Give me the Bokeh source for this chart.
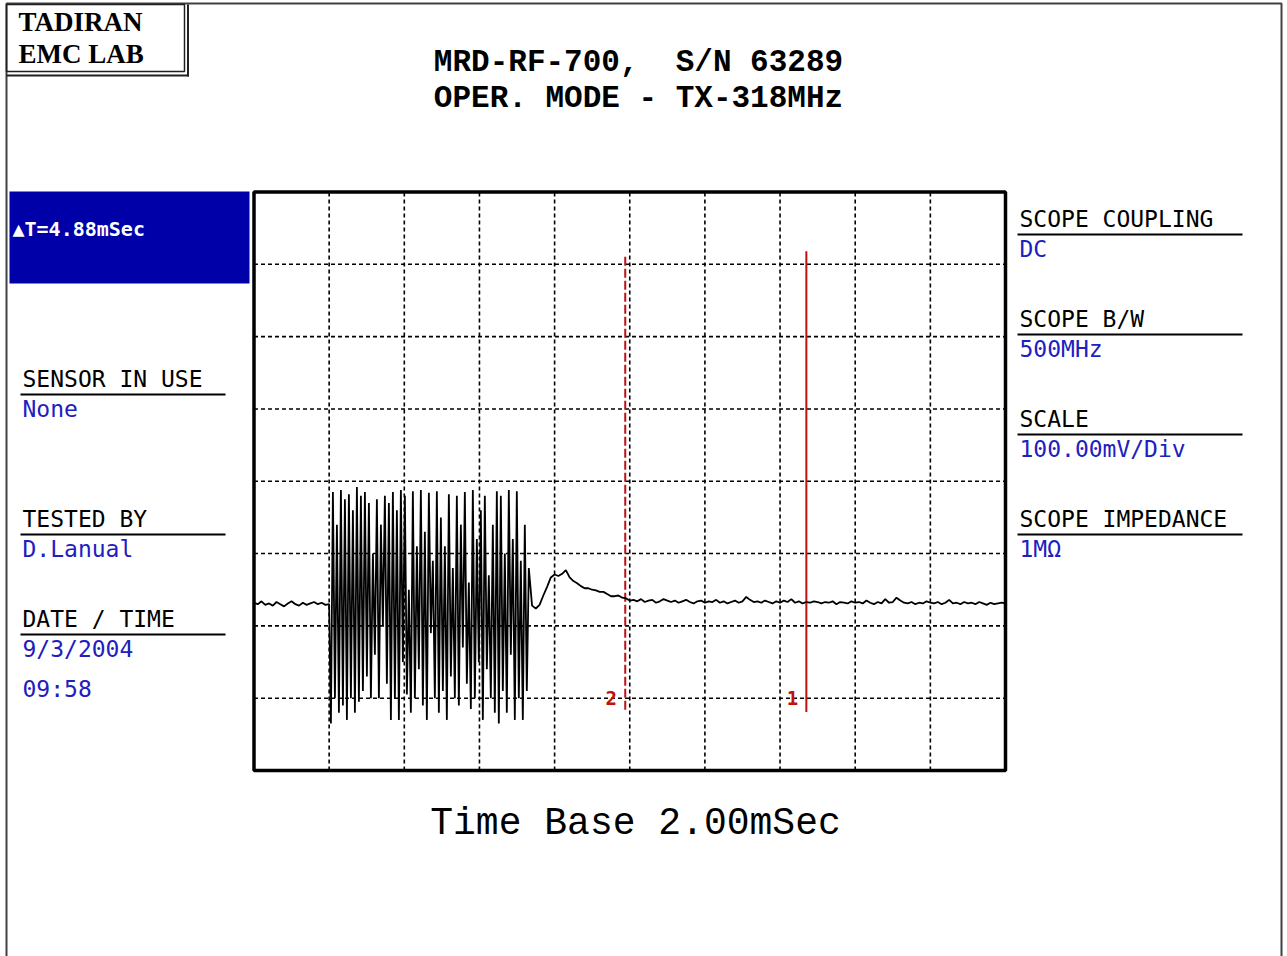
from bokeh.plotting import figure
from bokeh.models import Label, Range1d
from bokeh.embed import file_html
from bokeh.resources import INLINE

# ---------------- data (ms / mV) ----------------
x_grid_ticks = [2, 4, 6, 8, 10, 12, 14, 16, 18]
y_grid_ticks = [-300, -200, -100, 0, 100, 200, 300]
x_span = [0, 20]        # 10 div x 2.00 mSec
y_span = [-400, 400]    # 8 div x 100 mV

# pre-burst baseline, t = 0.0 .. 2.0 ms, step 0.1 ms
pre_start, pre_step = 0.0, 0.1
pre_mv = [-168, -170, -166, -171, -169, -172, -167, -170, -173, -169, -166,
          -170, -172, -168, -171, -169, -167, -170, -168, -171, -170]

# burst, sample step 0.0532 ms
burst_start, burst_step = 2.047, 0.0532
burst_mv = [-335, -15, -300, -60, -320, -12, -310, -25, -330, -18,
            -300, -40, -320, -8, -305, -20, -290, -15, -270, -30,
            -300, -100, -240, -25, -300, -60, -200, -20, -280, -30,
            -330, -15, -300, -40, -330, -12, -250, -20, -295, -150,
            -320, -14, -300, -90, -260, -12, -310, -70, -330, -16,
            -210, -110, -300, -14, -320, -50, -290, -90, -330, -18,
            -270, -120, -300, -20, -310, -60, -230, -15, -280, -140,
            -315, -12, -300, -80, -250, -40, -330, -20, -260, -130,
            -300, -60, -320, -14, -335, -20, -290, -100, -320, -12,
            -240, -80, -330, -14, -300, -110, -330, -60, -290, -120]

# tail after burst, t = 7.4 .. 20.0 ms, step 0.1 ms
tail_start, tail_step = 7.4, 0.1
tail_mv = [-172, -176, -171, -158, -146, -133, -129, -131, -128, -123,
           -133, -138, -141, -145, -148, -148, -150, -151, -153, -153,
           -156, -159, -159, -158, -161, -162, -165,
           -164, -166, -163, -167, -165, -164, -168, -166, -163, -165,
           -167, -165, -168, -166, -164, -167, -169, -166, -165, -168,
           -166, -167, -164, -168, -166, -169, -167, -165, -168, -166,
           -160, -164, -167, -166, -168, -165, -167, -169, -166, -168,
           -165, -167, -163, -168, -166, -169, -167, -168, -166, -167,
           -169, -167, -168, -166, -170, -167, -168, -169, -166, -168,
           -167, -169, -165, -168, -170, -167, -169, -163, -168, -167,
           -161, -165, -168, -169, -167, -170, -168, -169, -166, -168,
           -169, -167, -170, -168, -164, -169, -168, -170, -167, -169,
           -168, -170, -167, -169, -171, -168, -170, -169, -168, -169]

cursor_names = ["2", "1"]
cursor_ms = [9.88, 14.70]
cursor_top = [311, 318]
cursor_bot = [-316, -319]

left_fields = [("SENSOR IN USE", ["None"]),
               ("TESTED BY", ["D.Lanual"]),
               ("DATE / TIME", ["9/3/2004", "09:58"])]
right_fields = [("SCOPE COUPLING", ["DC"]),
                ("SCOPE B/W", ["500MHz"]),
                ("SCALE", ["100.00mV/Div"]),
                ("SCOPE IMPEDANCE", ["1M\u03a9"])]

title_lines = ["MRD-RF-700,\u00a0 S/N 63289", "OPER. MODE - TX-318MHz"]
lab_lines = ["TADIRAN", "EMC LAB"]
delta_text = "\u25b2T=4.88mSec"
timebase_text = "Time Base 2.00mSec"

# ---------------- assemble trace ----------------
def seg(start, step, vals):
    return [start + i * step for i in range(len(vals))]

t = seg(pre_start, pre_step, pre_mv) + seg(burst_start, burst_step, burst_mv) + seg(tail_start, tail_step, tail_mv)
v = pre_mv + burst_mv + tail_mv

# ---------------- figure: page in pixel units, scope in ms/mV ----------------
W, H = 1287, 956
FL, FR, FT, FB = 253.5, 1005.0, 191.5, 770.0   # scope screen on the page
pxx = (FR - FL) / (x_span[1] - x_span[0])
pxy = (FB - FT) / (y_span[1] - y_span[0])
ms_range = Range1d(x_span[0] - FL / pxx, x_span[1] + (W - FR) / pxx)
mv_range = Range1d(y_span[0] - (H - FB) / pxy, y_span[1] + FT / pxy)

p = figure(width=W, height=H, title=None,
           x_range=Range1d(0, W), y_range=Range1d(H, 0),
           output_backend="svg", toolbar_location=None,
           x_axis_location=None, y_axis_location=None,
           min_border=0, min_border_left=0, min_border_right=0,
           min_border_top=0, min_border_bottom=0)
p.extra_x_ranges = {"ms": ms_range}
p.extra_y_ranges = {"mV": mv_range}
p.xgrid.visible = False
p.ygrid.visible = False
p.background_fill_color = "white"
p.border_fill_color = "white"
p.outline_line_color = None

RED = "#c01010"
BLUE = "#2020c0"
SC = dict(x_range_name="ms", y_range_name="mV")

# grid (dashed)
p.segment(x0=x_grid_ticks, y0=[y_span[0]] * len(x_grid_ticks),
          x1=x_grid_ticks, y1=[y_span[1]] * len(x_grid_ticks),
          line_color="black", line_width=1.6, line_dash="4 3", **SC)
p.segment(x0=[x_span[0]] * len(y_grid_ticks), y0=y_grid_ticks,
          x1=[x_span[1]] * len(y_grid_ticks), y1=y_grid_ticks,
          line_color="black", line_width=1.6, line_dash="4 3", **SC)
# screen border
p.quad(left=[x_span[0]], right=[x_span[1]], bottom=[y_span[0]], top=[y_span[1]],
       fill_alpha=0, line_color="black", line_width=3.5, **SC)

# cursors
for name, x, yt, yb in zip(cursor_names, cursor_ms, cursor_top, cursor_bot):
    p.segment(x0=[x], y0=[yb], x1=[x], y1=[yt], line_color=RED, line_width=2,
              line_dash="9 3" if name == "2" else "solid", **SC)
    p.add_layout(Label(x=x, y=-300, x_offset=-14, text=name, text_align="center",
                       text_baseline="middle", text_color=RED, text_font="DejaVu Sans Mono",
                       text_font_style="bold", text_font_size="19px", **SC))

# trace
p.line(t, v, line_color="black", line_width=1.8, **SC)

# ---------------- page decorations (page pixel units) ----------------
def box(l, r, tp, b, **kw):
    p.quad(left=[l], right=[r], top=[tp], bottom=[b], **kw)

def text(px, py, s, font="DejaVu Sans Mono", size="23px", color="black", align="left", style="normal"):
    p.add_layout(Label(x=px, y=py, text=s, text_font=font, text_font_size=size,
                       text_color=color, text_align=align, text_baseline="middle",
                       text_font_style=style))

# outer page border
box(6, 1281, 3, 990, fill_alpha=0, line_color="#404040", line_width=2)
# lab box with shadow
box(6, 184, 4, 71, fill_alpha=0, line_color="#202020", line_width=1.5)
box(186.5, 188.5, 4, 76, fill_color="#202020", line_color=None)
box(6, 188.5, 74, 76, fill_color="#202020", line_color=None)
# blue delta box
box(9, 249, 191, 283, fill_color="#0000a8", line_color=None)

text(18, 21, lab_lines[0], font="Liberation Serif", size="27px", style="bold")
text(18, 53, lab_lines[1], font="Liberation Serif", size="27px", style="bold")

text(638, 62, title_lines[0], font="Liberation Mono", size="31px", align="center", style="bold")
text(638, 98, title_lines[1], font="Liberation Mono", size="31px", align="center", style="bold")

text(12, 228, delta_text, size="20px", color="white", style="bold")

text(635, 823, timebase_text, font="Liberation Mono", size="38px", align="center")

# right side fields
ry = 218
for head, vals in right_fields:
    text(1019, ry, head)
    box(1017, 1242, ry + 15, ry + 17, fill_color="black", line_color=None)
    for j, s in enumerate(vals):
        text(1019, ry + 30 + 40 * j, s, color=BLUE)
    ry += 100

# left side fields
left_y = [378, 518, 618]
for (head, vals), ly in zip(left_fields, left_y):
    text(22, ly, head)
    box(20, 225, ly + 15, ly + 17, fill_color="black", line_color=None)
    for j, s in enumerate(vals):
        text(22, ly + 30 + 40 * j, s, color=BLUE)

open("out.html", "w").write(file_html(p, INLINE))
